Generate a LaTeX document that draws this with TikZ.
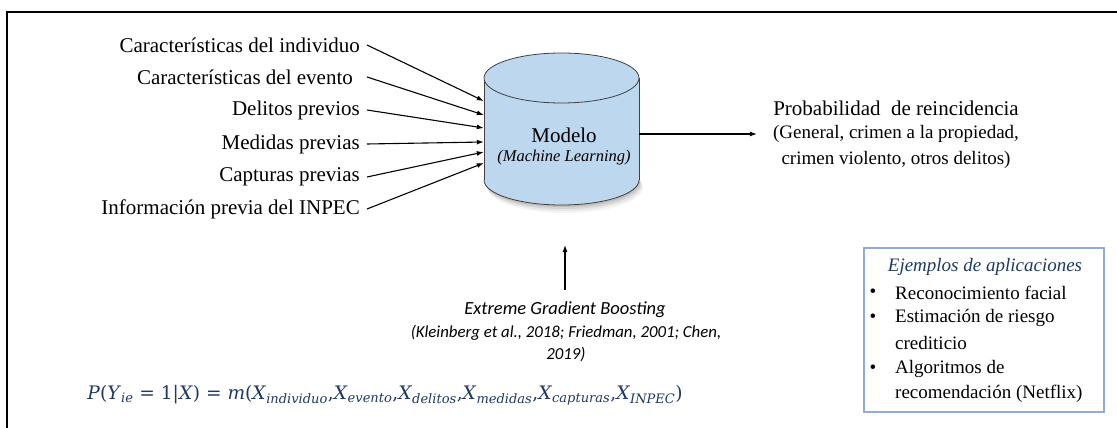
\documentclass[tikz,border=0pt]{standalone}
\usepackage{fontspec}
\setmainfont{Liberation Serif}
\newfontfamily\calib{Carlito}
\newfontfamily\eqfont{DejaVu Serif}
\usetikzlibrary{arrows.meta}
\definecolor{navy}{RGB}{31,56,100}
\definecolor{cylfill}{RGB}{189,215,238}
\definecolor{boxblue}{RGB}{143,170,220}
\newcommand{\vx}[1]{\textit{X}\textsubscript{\textit{#1}}}
\begin{document}
\begin{tikzpicture}[x=1pt,y=-1pt,
  lbl/.style={font=\fontsize{21}{25}\selectfont, inner sep=0pt, anchor=east},
  arr/.style={-{Latex[length=7pt,width=5pt]}, line width=1.1pt},
  txt/.style={inner sep=0pt},
  ex/.style={inner sep=0pt, anchor=west, font=\fontsize{19}{22}\selectfont},
  bul/.style={inner sep=0pt, font=\fontsize{19}{22}\selectfont},
  cyl/.style={draw=black!75, line width=0.8pt}
]
\useasboundingbox (0,0) rectangle (1117,428);
\clip (0,0) rectangle (1117,428);
\draw[line width=2pt] (7,12) rectangle (1130,440);

% shadow of the cylinder
\foreach \d/\o in {2/0.10,4/0.08,6/0.06,8/0.04}{
  \fill[black, opacity=\o] (561.5+\d/2,180+\d) ellipse[x radius=77.5, y radius=25];
}
% cylinder
\fill[cylfill] (484,78) rectangle (639,180);
\fill[cylfill] (561.5,180) ellipse[x radius=77.5, y radius=25];
\begin{scope}
  \clip (478,180) rectangle (645,215);
  \draw[cyl] (561.5,180) ellipse[x radius=77.5, y radius=25];
\end{scope}
\draw[cyl] (484,78) -- (484,180) (639,78) -- (639,180);
\draw[cyl, fill=cylfill] (561.5,78) ellipse[x radius=77.5, y radius=25];
\node[inner sep=0pt, minimum width=155pt, minimum height=152pt] (model) at (561.5,129) {};
\node[txt, font=\fontsize{21}{25}\selectfont] (mtitle) at (564,135) {Modelo};
\node[txt, font=\itshape\fontsize{16.5}{20}\selectfont] (mml) at (564,158) {(Machine Learning)};

% inputs
\node[lbl] (i1) at (360,45) {Características del individuo};
\node[lbl] (i2) at (353,77) {Características del evento};
\node[lbl] (i3) at (360,110) {Delitos previos};
\node[lbl] (i4) at (360,144) {Medidas previas};
\node[lbl] (i5) at (360,177) {Capturas previas};
\node[lbl] (i6) at (360,209) {Información previa del INPEC};
\draw[arr] ([xshift=7pt]i1.east) -- (model.west |- 0,101);
\draw[arr] ([xshift=14pt]i2.east) -- (model.west |- 0,115);
\draw[arr] ([xshift=7pt]i3.east) -- (model.west |- 0,128);
\draw[arr] ([xshift=7pt]i4.east) -- (model.west |- 0,142);
\draw[arr] ([xshift=7pt]i5.east) -- (model.west |- 0,152);
\draw[arr] ([xshift=7pt]i6.east) -- (model.west |- 0,163);

% output
\node[txt, font=\fontsize{21}{25}\selectfont] (prob) at (896,108) {Probabilidad\ \ de reincidencia};
\node[txt, font=\fontsize{19}{22}\selectfont] (gen) at (896,134) {(General, crimen a la propiedad,};
\node[txt, font=\fontsize{19}{22}\selectfont] (crim) at (896,160) {crimen violento, otros delitos)};
\draw[arr] (model.east |- gen) -- ([xshift=-16pt]gen.west);

% XGB
\node[txt, font=\calib\itshape\fontsize{18.5}{22}\selectfont] (xgb) at (565,310) {Extreme Gradient Boosting};
\node[txt, font=\calib\itshape\fontsize{16.8}{22}\selectfont, align=center] (refs) at (566,344) {(Kleinberg et al., 2018; Friedman, 2001; Chen,\\2019)};
\coordinate (xtip) at (565,245);
\draw[arr] (xgb.north |- 0,290) -- (xtip);

% equation
\node[txt, text=navy, font=\eqfont\fontsize{18.6}{22}\selectfont] (eq) at (385,395)
  {\textit{P}(\textit{Y}\textsubscript{\textit{ie}} = 1|\textit{X}) = \textit{m}(\vx{individuo},\vx{evento},\vx{delitos},\vx{medidas},\vx{capturas},\vx{INPEC})};

% examples box
\node[draw=boxblue, line width=1.5pt, minimum width=240pt, minimum height=164pt, inner sep=0pt] (exbox) at (984,330) {};
\node[txt, text=navy, font=\itshape\fontsize{19}{22}\selectfont] (extitle) at (985,267) {Ejemplos de aplicaciones};
\node[bul] (b1) at (873,293) {•};
\node[bul] (b2) at (873,318) {•};
\node[bul] (b3) at (873,369) {•};
\node[ex] (e1) at (895,293) {Reconocimiento facial};
\node[ex] (e2) at (895,318) {Estimación de riesgo};
\node[ex] (e2b) at (895,343) {crediticio};
\node[ex] (e3) at (895,369) {Algoritmos de};
\node[ex] (e3b) at (895,394) {recomendación (Netflix)};
\end{tikzpicture}
\end{document}
